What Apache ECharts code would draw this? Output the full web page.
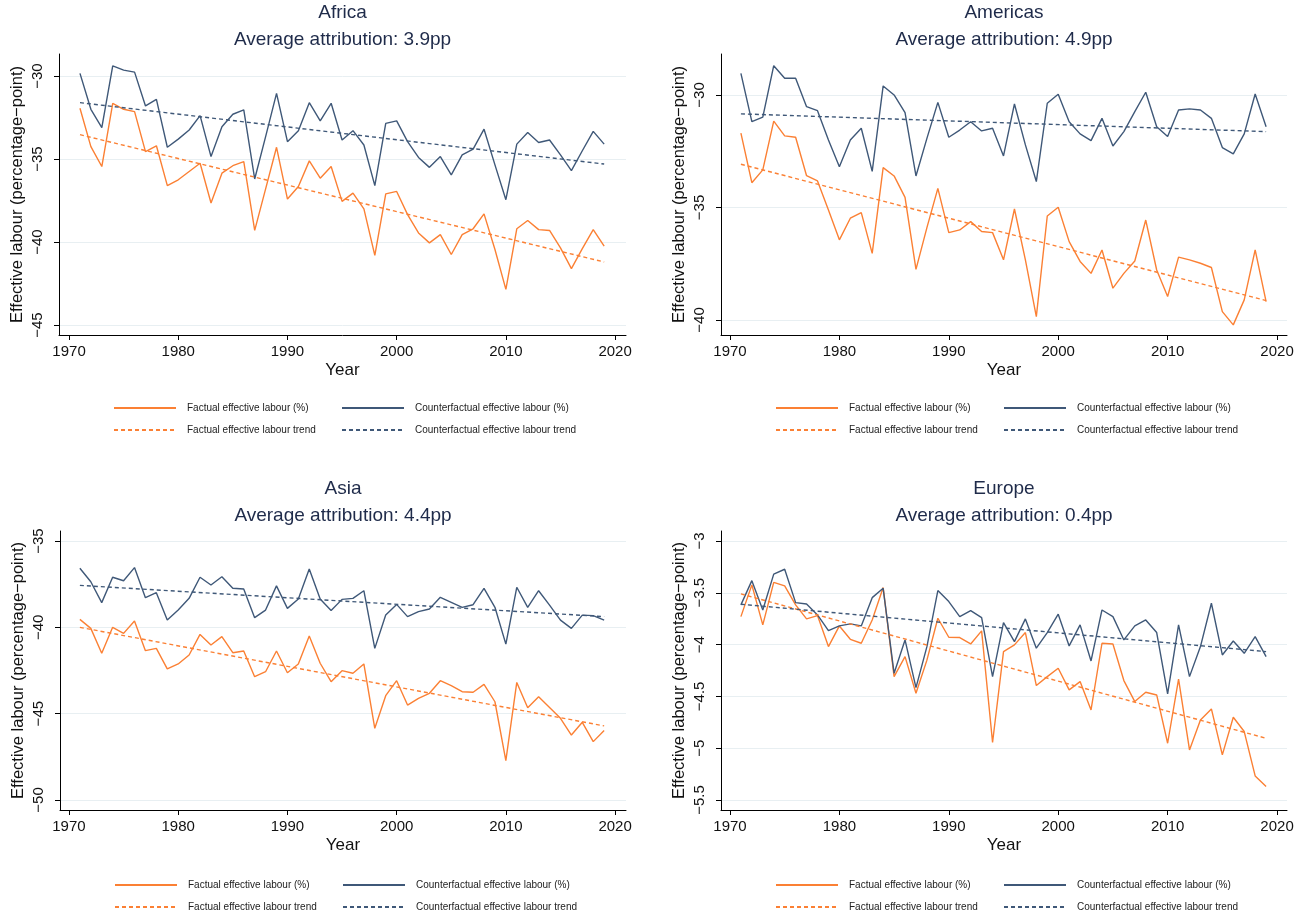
<!DOCTYPE html>
<html>
<head>
<meta charset="utf-8">
<script src="https://cdn.jsdelivr.net/npm/echarts@6/dist/echarts.min.js"></script>
<style>
html,body{margin:0;padding:0;background:#ffffff;}
#chart{width:1298px;height:910px;}
</style>
</head>
<body>
<div id="chart"></div>
<script>
// ---------------- DATA ----------------
const years = [1971,1972,1973,1974,1975,1976,1977,1978,1979,1980,
  1981,1982,1983,1984,1985,1986,1987,1988,1989,1990,
  1991,1992,1993,1994,1995,1996,1997,1998,1999,2000,
  2001,2002,2003,2004,2005,2006,2007,2008,2009,2010,
  2011,2012,2013,2014,2015,2016,2017,2018,2019];
const trendYears = [1971, 2019];
const yearTicks = [1970, 1980, 1990, 2000, 2010, 2020];

const africaFactual = [-31.94,-34.25,-35.45,-31.64,-32.0,-32.14,-34.55,-34.2,-36.6,-36.25,
  -35.75,-35.25,-37.65,-35.85,-35.4,-35.15,-39.3,-36.8,-34.29,-37.41,
  -36.65,-35.11,-36.15,-35.45,-37.55,-37.05,-38.0,-40.8,-37.1,-36.95,
  -38.35,-39.45,-40.05,-39.55,-40.75,-39.55,-39.2,-38.3,-40.45,-42.85,
  -39.2,-38.7,-39.25,-39.3,-40.35,-41.6,-40.4,-39.25,-40.25];
const africaCounter = [-29.84,-32.0,-33.1,-29.38,-29.64,-29.76,-31.8,-31.4,-34.29,-33.8,
  -33.25,-32.38,-34.85,-33.05,-32.3,-32.04,-36.2,-33.65,-31.04,-33.95,
  -33.3,-31.6,-32.7,-31.64,-33.85,-33.29,-34.15,-36.6,-32.85,-32.7,
  -33.95,-34.9,-35.5,-34.85,-35.95,-34.75,-34.4,-33.2,-35.35,-37.45,
  -34.1,-33.4,-34.0,-33.85,-34.75,-35.7,-34.5,-33.33,-34.1];
const africaFactualTrend = [-33.53, -41.2];
const africaCounterTrend = [-31.6, -35.3];
const africaTicks = [-45, -40, -35, -30];

const americasFactual = [-31.7,-33.9,-33.33,-31.16,-31.82,-31.88,-33.59,-33.82,-35.11,-36.44,
  -35.48,-35.23,-37.04,-33.23,-33.6,-34.55,-37.75,-35.9,-34.15,-36.12,
  -36.0,-35.63,-36.07,-36.12,-37.33,-35.07,-37.33,-39.85,-35.38,-34.99,
  -36.52,-37.4,-37.93,-36.89,-38.59,-37.93,-37.38,-35.56,-37.78,-38.96,
  -37.21,-37.33,-37.48,-37.67,-39.63,-40.22,-39.11,-36.89,-39.19];
const americasCounter = [-29.04,-31.19,-30.99,-28.7,-29.26,-29.26,-30.52,-30.7,-32.0,-33.19,
  -32.0,-31.48,-33.4,-29.6,-30.0,-30.79,-33.6,-31.93,-30.33,-31.88,
  -31.56,-31.19,-31.6,-31.48,-32.71,-30.4,-32.22,-33.85,-30.37,-29.97,
  -31.19,-31.73,-32.03,-31.04,-32.27,-31.63,-30.74,-29.88,-31.41,-31.85,
  -30.67,-30.62,-30.67,-31.04,-32.34,-32.62,-31.73,-29.96,-31.41];
const americasFactualTrend = [-33.08, -39.14];
const americasCounterTrend = [-30.84, -31.63];
const americasTicks = [-40, -35, -30];

const asiaFactual = [-39.54,-40.06,-41.5,-40.0,-40.35,-39.63,-41.35,-41.22,-42.41,-42.12,
  -41.6,-40.41,-41.02,-40.54,-41.47,-41.37,-42.86,-42.57,-41.37,-42.63,
  -42.12,-40.5,-42.08,-43.15,-42.51,-42.66,-42.12,-45.85,-43.96,-43.09,
  -44.5,-44.11,-43.82,-43.09,-43.38,-43.73,-43.76,-43.3,-44.31,-47.72,
  -43.19,-44.66,-44.02,-44.64,-45.27,-46.24,-45.5,-46.62,-45.98];
const asiaCounter = [-36.58,-37.36,-38.57,-37.1,-37.3,-36.54,-38.28,-37.99,-39.58,-39.0,
  -38.32,-37.1,-37.55,-37.07,-37.74,-37.78,-39.44,-39.0,-37.6,-38.9,
  -38.36,-36.62,-38.36,-39.03,-38.38,-38.32,-37.88,-41.22,-39.29,-38.67,
  -39.38,-39.09,-38.94,-38.26,-38.55,-38.84,-38.69,-37.74,-38.84,-40.97,
  -37.68,-38.84,-37.88,-38.71,-39.58,-40.06,-39.29,-39.32,-39.58];
const asiaFactualTrend = [-40.0, -45.71];
const asiaCounterTrend = [-37.57, -39.38];
const asiaTicks = [-50, -45, -40, -35];

const europeFactual = [-3.73,-3.424,-3.81,-3.399,-3.434,-3.617,-3.752,-3.72,-4.019,-3.82,
  -3.949,-3.987,-3.762,-3.45,-4.309,-4.116,-4.469,-4.15,-3.746,-3.929,
  -3.932,-3.994,-3.868,-4.945,-4.068,-4.003,-3.884,-4.395,-4.309,-4.228,
  -4.437,-4.357,-4.63,-3.987,-3.994,-4.347,-4.55,-4.46,-4.486,-4.952,
  -4.334,-5.016,-4.727,-4.621,-5.064,-4.701,-4.839,-5.267,-5.37];
const europeCounter = [-3.617,-3.383,-3.666,-3.32,-3.273,-3.595,-3.608,-3.714,-3.865,-3.82,
  -3.80,-3.82,-3.547,-3.457,-4.277,-3.955,-4.415,-4.02,-3.479,-3.585,
  -3.73,-3.672,-3.74,-4.309,-3.788,-3.971,-3.752,-4.035,-3.884,-3.707,
  -4.013,-3.81,-4.158,-3.666,-3.73,-3.955,-3.82,-3.762,-3.884,-4.476,
  -3.81,-4.309,-4.019,-3.601,-4.10,-3.965,-4.084,-3.923,-4.116];
const europeFactualTrend = [-3.511, -4.904];
const europeCounterTrend = [-3.611, -4.068];
const europeTicks = [-5.5, -5, -4.5, -4, -3.5, -3];

const regionNames = ['Africa', 'Americas', 'Asia', 'Europe'];
const attributions = ['Average attribution: 3.9pp', 'Average attribution: 4.9pp',
  'Average attribution: 4.4pp', 'Average attribution: 0.4pp'];
const seriesNames = ['Factual effective labour (%)', 'Counterfactual effective labour (%)',
  'Factual effective labour trend', 'Counterfactual effective labour trend'];

// ---------------- LAYOUT ----------------
const FONT = '"Liberation Sans", Arial, Helvetica, sans-serif';
const ORANGE = '#fb8034';
const BLUE = '#3f5878';
const TITLE_COLOR = '#1f2b4a';

const panels = [
  {factual: africaFactual, counter: africaCounter, fT: africaFactualTrend, cT: africaCounterTrend,
   ticks: africaTicks, grid: {left: 59, top: 54, width: 567, height: 281},
   x: [1969.08, 2021.0], y: [-45.6, -28.67], titleY: 13, legendY: 408},
  {factual: americasFactual, counter: americasCounter, fT: americasFactualTrend, cT: americasCounterTrend,
   ticks: americasTicks, grid: {left: 721, top: 54, width: 566, height: 281},
   x: [1969.18, 2020.91], y: [-40.67, -28.18], titleY: 13, legendY: 408},
  {factual: asiaFactual, counter: asiaCounter, fT: asiaFactualTrend, cT: asiaCounterTrend,
   ticks: asiaTicks, grid: {left: 60, top: 531, width: 566, height: 279},
   x: [1969.18, 2021.0], y: [-50.58, -34.42], titleY: 489, legendY: 885},
  {factual: europeFactual, counter: europeCounter, fT: europeFactualTrend, cT: europeCounterTrend,
   ticks: europeTicks, grid: {left: 721, top: 531, width: 566, height: 279},
   x: [1969.18, 2020.91], y: [-5.596, -2.904], titleY: 489, legendY: 885}
];

const minus = v => String(v).replace('-', '\u2212');

const grids = [], xAxes = [], yAxes = [], series = [], legends = [], graphics = [];

panels.forEach((p, i) => {
  grids.push(Object.assign({containLabel: false}, p.grid));
  xAxes.push({
    gridIndex: i, type: 'value', min: p.x[0], max: p.x[1],
    axisLine: {show: true, onZero: false, lineStyle: {color: '#000', width: 1}},
    axisTick: {show: true, length: 5, customValues: yearTicks, lineStyle: {color: '#000', width: 1}},
    axisLabel: {customValues: yearTicks, fontSize: 15, margin: 9, color: '#111', fontFamily: FONT,
      formatter: v => String(v)},
    splitLine: {show: false},
    name: 'Year', nameLocation: 'middle', nameGap: 27,
    nameTextStyle: {fontSize: 17, color: '#111', fontFamily: FONT}
  });
  yAxes.push({
    gridIndex: i, type: 'value', min: p.y[0], max: p.y[1],
    axisLine: {show: true, onZero: false, lineStyle: {color: '#000', width: 1}},
    axisTick: {show: true, length: 5, customValues: p.ticks, lineStyle: {color: '#000', width: 1}},
    axisLabel: {customValues: p.ticks, rotate: 90, fontSize: 15, margin: 14, color: '#111', fontFamily: FONT,
      formatter: minus},
    splitLine: {show: true, lineStyle: {color: '#e8eff2', width: 1}},
    name: 'Effective labour (percentage\u2212point)', nameLocation: 'middle', nameGap: 33,
    nameTextStyle: {fontSize: 16.5, color: '#111', fontFamily: FONT}
  });

  const pts = arr => years.map((yr, k) => [yr, arr[k]]);
  const tpts = arr => trendYears.map((yr, k) => [yr, arr[k]]);
  const base = {type: 'line', xAxisIndex: i, yAxisIndex: i, symbol: 'none', showSymbol: false,
    silent: true, animation: false};
  series.push(Object.assign({}, base, {name: seriesNames[0], data: pts(p.factual), z: 2,
    lineStyle: {color: ORANGE, width: 1.4}, itemStyle: {color: ORANGE}}));
  series.push(Object.assign({}, base, {name: seriesNames[1], data: pts(p.counter), z: 3,
    lineStyle: {color: BLUE, width: 1.4}, itemStyle: {color: BLUE}}));
  series.push(Object.assign({}, base, {name: seriesNames[2], data: tpts(p.fT), z: 4,
    lineStyle: {color: ORANGE, width: 1.4, type: [4, 3]}, itemStyle: {color: ORANGE}}));
  series.push(Object.assign({}, base, {name: seriesNames[3], data: tpts(p.cT), z: 5,
    lineStyle: {color: BLUE, width: 1.4, type: [4, 3]}, itemStyle: {color: BLUE}}));

  const cx = p.grid.left + p.grid.width / 2;
  graphics.push({type: 'text', x: cx, y: p.titleY,
    style: {text: regionNames[i], fill: TITLE_COLOR, font: '19px ' + FONT, align: 'center', verticalAlign: 'middle'}});
  graphics.push({type: 'text', x: cx, y: p.titleY + 27,
    style: {text: attributions[i], fill: TITLE_COLOR, font: '19px ' + FONT, align: 'center', verticalAlign: 'middle'}});

  const legendSpots = [[54, 0], [282, 0], [54, 1], [282, 1]];
  legendSpots.forEach((s, k) => {
    legends.push({
      data: [seriesNames[k]], left: p.grid.left + s[0], top: p.legendY + s[1] * 22 - 5,
      padding: 0, itemWidth: 62, itemHeight: 10, selectedMode: false, orient: 'horizontal',
      itemStyle: {opacity: 0},
      textStyle: {fontSize: 10, color: '#222', fontFamily: FONT, padding: [0, 0, 0, 6]}
    });
  });
});

const chart = echarts.init(document.getElementById('chart'), null, {renderer: 'canvas'});
chart.setOption({
  animation: false,
  backgroundColor: '#ffffff',
  textStyle: {fontFamily: FONT},
  grid: grids, xAxis: xAxes, yAxis: yAxes, series: series, legend: legends,
  graphic: graphics
});
</script>
</body>
</html>
